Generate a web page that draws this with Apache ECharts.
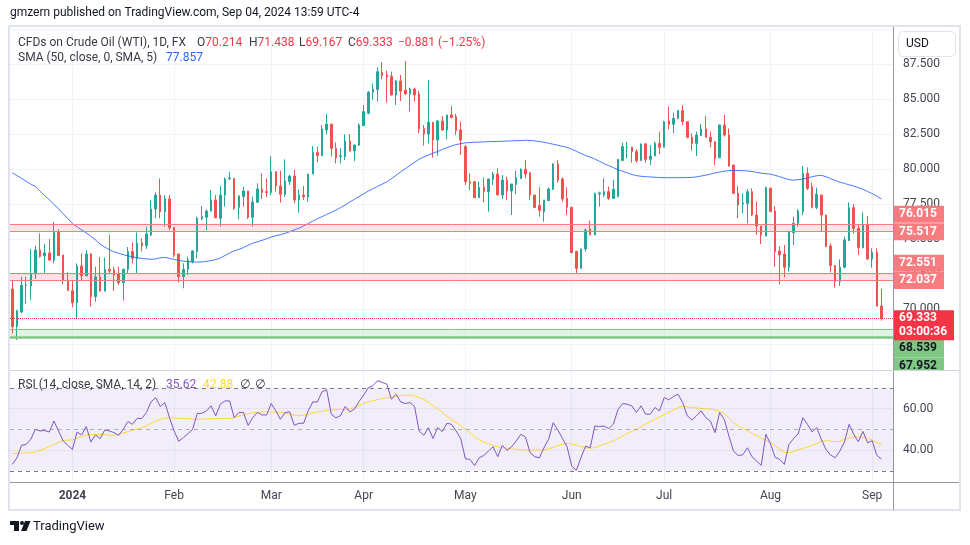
<!DOCTYPE html>
<html>
<head>
<meta charset="utf-8">
<script src="https://cdn.jsdelivr.net/npm/echarts@6/dist/echarts.min.js"></script>
<style>
html,body{margin:0;padding:0;background:#ffffff;}
#c{width:970px;height:545px;}
</style>
</head>
<body>
<div id="c"></div>
<script>
// ---------- DATA ----------
const monthDays = [
  ['2023-12', [12,13,14,15,18,19,20,21,22,26,27,28,29]],
  ['2024-01', [2,3,4,5,8,9,10,11,12,15,16,17,18,19,22,23,24,25,26,29,30,31]],
  ['2024-02', [1,2,5,6,7,8,9,12,13,14,15,16,19,20,21,22,23,26,27,28,29]],
  ['2024-03', [1,4,5,6,7,8,11,12,13,14,15,18,19,20,21,22,25,26,27,28]],
  ['2024-04', [1,2,3,4,5,8,9,10,11,12,15,16,17,18,19,22,23,24,25,26,29,30]],
  ['2024-05', [1,2,3,6,7,8,9,10,13,14,15,16,17,20,21,22,23,24,27,28,29,30,31]],
  ['2024-06', [3,4,5,6,7,10,11,12,13,14,17,18,19,20,21,24,25,26,27,28]],
  ['2024-07', [1,2,3,4,5,8,9,10,11,12,15,16,17,18,19,22,23,24,25,26,29,30,31]],
  ['2024-08', [1,2,5,6,7,8,9,12,13,14,15,16,19,20,21,22,23,26,27,28,29,30]],
  ['2024-09', [2,3,4,5,6]]
];
const tickLabels = ['2024','Feb','Mar','Apr','May','Jun','Jul','Aug','Sep'];

const opens = [
71.43,68.74,69.79,71.69,71.64,72.55,74.21,73.79,74.00,73.50,
75.50,73.86,72.05,71.31,70.45,73.07,72.38,73.93,70.88,72.29,
71.29,72.83,72.79,72.55,71.88,72.83,74.10,73.60,74.71,74.52,
75.29,77.14,78.14,76.95,77.86,75.83,73.93,72.31,72.83,73.38,
74.10,76.43,76.55,77.00,77.79,76.48,78.14,79.31,79.33,77.26,
78.02,78.43,76.55,77.62,78.57,78.38,78.33,79.81,78.79,78.19,
79.10,79.50,77.79,78.14,78.02,79.64,81.17,80.95,82.79,83.21,
81.48,80.90,80.88,82.00,81.29,81.71,83.10,83.98,85.48,85.67,
86.90,86.71,86.64,85.29,86.29,85.64,85.36,85.71,85.36,82.90,
82.50,83.33,82.07,83.43,82.79,83.86,83.74,82.79,81.60,79.10,
79.10,77.95,78.69,78.38,79.26,79.64,78.14,79.21,78.43,78.90,
79.33,79.98,79.74,78.14,77.40,76.95,77.74,78.55,80.36,79.29,
77.90,77.26,74.10,72.90,74.29,75.71,75.29,78.21,78.14,78.38,
77.90,78.02,80.60,81.55,81.55,81.24,80.60,81.79,80.69,80.93,
81.83,81.55,83.43,83.19,83.62,84.17,83.38,82.26,81.83,82.38,
82.86,82.26,81.95,80.81,83.14,82.43,80.29,78.26,77.50,77.55,
78.38,76.71,75.93,75.21,78.62,77.00,74.14,73.93,72.98,75.45,
76.12,76.95,79.69,78.74,77.26,78.14,76.71,74.50,73.10,71.95,
72.98,74.88,77.24,75.76,74.38,76.05,73.57,74.05,70.214
];
const highs = [
72.00,69.93,72.31,72.31,74.29,74.52,75.40,74.64,75.00,76.21,
75.69,73.86,72.62,72.07,73.26,73.98,74.21,73.98,73.02,73.71,
73.67,75.29,73.02,73.02,72.90,74.43,74.74,75.48,75.05,75.88,
77.79,78.33,79.33,78.14,78.14,75.83,73.93,73.26,73.74,74.21,
76.60,77.36,77.12,78.50,78.14,78.79,79.40,79.81,79.33,78.14,
78.74,78.43,78.02,78.98,79.69,79.33,80.93,79.81,79.88,80.69,
79.57,79.93,78.55,78.79,79.64,81.64,81.60,83.14,83.93,83.21,
81.90,81.48,82.48,82.48,81.76,83.26,84.57,85.57,86.12,87.26,
87.62,87.02,86.95,86.36,86.71,87.71,85.81,85.81,85.57,83.14,
86.36,83.38,83.50,83.79,83.86,84.50,83.93,83.38,81.71,79.69,
79.10,79.10,79.38,79.29,79.81,80.05,79.57,79.45,78.93,79.86,
80.05,80.64,79.74,78.14,78.70,77.79,78.69,80.40,80.64,79.40,
78.69,77.31,74.17,74.29,75.76,76.31,78.31,78.38,79.33,78.74,
79.21,80.69,81.88,81.95,81.60,81.40,81.83,81.88,81.71,81.95,
82.67,83.45,84.45,84.02,84.21,84.57,83.38,82.55,82.67,83.21,
83.79,82.67,81.95,83.19,83.86,82.90,80.29,78.79,78.26,78.55,
78.62,77.67,75.93,78.74,78.69,77.36,74.45,74.57,75.60,76.60,
77.14,80.21,80.12,79.02,78.67,78.14,76.71,74.69,73.14,73.55,
75.17,77.62,77.50,76.00,76.90,76.64,74.33,74.33,71.438
];
const lows = [
68.26,67.79,69.69,70.36,70.64,72.14,73.67,72.55,73.43,73.26,
73.81,71.76,71.31,70.12,69.33,72.07,72.31,70.17,70.52,71.24,
71.24,72.55,71.31,71.71,70.60,72.55,73.26,72.55,74.10,74.29,
75.21,76.48,76.48,75.88,75.64,73.69,71.88,71.48,72.43,73.26,
73.62,76.36,75.64,76.95,76.48,75.88,77.31,79.21,77.07,76.40,
77.31,76.43,75.88,77.60,77.86,77.98,78.14,78.38,77.60,78.02,
78.86,77.55,76.88,77.79,77.67,79.64,80.48,80.93,82.48,80.88,
80.40,80.40,80.64,81.24,80.57,81.64,83.07,83.90,84.93,84.81,
86.40,84.74,85.24,84.57,84.86,85.29,84.10,84.81,82.55,81.67,
81.83,80.81,80.95,82.71,82.12,83.62,82.43,81.00,78.86,78.50,
77.95,77.95,77.60,76.95,78.86,78.14,77.86,77.79,76.71,78.19,
79.29,79.33,77.79,77.24,76.60,76.24,77.74,78.50,79.02,77.67,
76.71,74.02,72.55,72.90,74.10,75.29,75.29,77.31,77.98,77.79,
77.90,78.02,80.60,80.76,80.45,80.45,80.60,80.45,80.29,80.93,
81.07,81.55,82.83,82.55,83.55,83.14,82.19,81.31,80.93,82.38,
82.26,81.55,80.29,80.76,82.31,80.17,78.26,76.48,76.83,76.12,
76.64,75.29,74.64,75.21,76.95,73.02,71.76,72.26,72.67,74.57,
75.88,76.71,78.50,77.19,77.12,75.52,74.45,72.60,71.52,71.64,
72.90,74.88,75.40,73.86,74.33,73.50,72.95,70.17,69.167
];
const closes = [
68.74,69.88,71.69,71.72,72.55,74.21,73.74,74.00,73.50,75.50,
73.81,72.05,71.31,70.45,73.07,72.38,73.93,70.88,72.29,71.29,
72.83,72.71,72.43,71.88,72.83,74.10,73.62,74.71,74.52,75.36,
77.14,78.14,76.95,77.86,75.81,73.86,72.31,72.83,73.50,74.14,
76.48,76.60,77.00,77.79,76.52,78.14,79.29,79.36,77.19,78.07,
78.43,76.55,77.64,78.57,78.33,78.33,79.81,78.79,78.19,79.14,
79.50,77.79,78.14,78.02,79.64,81.17,80.95,82.86,83.21,81.48,
80.81,80.95,82.00,81.29,81.71,83.14,84.10,85.48,85.71,86.95,
86.67,86.57,85.29,86.29,85.57,85.36,85.71,85.29,82.86,82.50,
83.33,82.07,83.43,82.79,83.86,83.67,82.74,82.07,79.10,78.98,
77.95,78.69,78.38,79.29,79.64,78.14,79.21,78.43,78.93,79.38,
79.98,79.64,78.14,77.24,77.05,77.79,78.57,80.36,79.21,77.86,
77.26,74.02,72.90,74.29,75.64,75.29,78.26,78.29,78.38,77.90,
78.55,80.69,81.60,81.57,81.24,80.60,81.79,80.69,80.93,81.83,
81.55,83.38,83.19,83.62,84.17,83.38,82.26,81.83,82.43,82.86,
82.26,81.95,80.76,83.14,82.43,80.21,78.26,77.43,77.57,78.38,
76.71,75.93,75.29,78.67,76.95,74.10,73.86,72.98,75.52,76.12,
77.00,79.69,78.62,77.26,78.21,76.71,74.45,73.10,71.95,72.98,
74.93,77.24,75.76,74.38,76.05,73.57,74.05,70.214,69.333
];
const sma50 = [
79.72,79.53,79.33,79.12,78.92,78.75,78.41,78.10,77.80,77.47,
77.17,76.80,76.46,76.10,75.87,75.65,75.43,75.20,74.93,74.64,
74.42,74.24,74.08,73.98,73.88,73.80,73.73,73.66,73.61,73.58,
73.55,73.58,73.66,73.68,73.62,73.54,73.48,73.42,73.38,73.36,
73.35,73.36,73.40,73.46,73.53,73.65,73.82,74.00,74.15,74.26,
74.39,74.55,74.70,74.80,74.90,75.02,75.14,75.23,75.31,75.40,
75.52,75.65,75.78,75.93,76.11,76.28,76.45,76.60,76.76,76.90,
77.07,77.24,77.43,77.64,77.84,78.03,78.23,78.42,78.60,78.76,
78.92,79.08,79.30,79.55,79.80,80.02,80.25,80.48,80.70,80.86,
81.00,81.13,81.25,81.39,81.52,81.65,81.74,81.81,81.87,81.89,
81.91,81.92,81.94,81.95,81.96,81.97,81.98,82.00,82.01,82.02,
82.03,82.05,82.04,82.01,81.96,81.91,81.84,81.77,81.70,81.62,
81.55,81.41,81.27,81.11,80.96,80.85,80.72,80.55,80.38,80.25,
80.10,79.96,79.84,79.73,79.61,79.53,79.48,79.45,79.43,79.41,
79.39,79.38,79.38,79.38,79.38,79.38,79.39,79.40,79.44,79.50,
79.56,79.63,79.72,79.78,79.84,79.89,79.90,79.89,79.88,79.86,
79.82,79.76,79.70,79.66,79.63,79.55,79.45,79.34,79.24,79.20,
79.24,79.28,79.36,79.45,79.52,79.55,79.45,79.32,79.18,79.06,
78.97,78.87,78.78,78.67,78.55,78.40,78.24,78.06,77.857
];
const rsi = [
33.1,36.3,42.3,42.7,45.2,50.0,49.2,49.4,48.7,54.0,
49.2,44.4,42.3,40.3,48.7,47.3,51.3,43.9,47.3,45.5,
49.7,49.2,48.4,47.1,50.0,53.7,52.4,55.3,55.2,58.1,
63.2,65.3,61.0,62.9,55.6,49.2,44.2,46.0,47.9,50.0,
57.6,57.7,58.9,61.3,56.5,62.1,63.7,63.7,55.6,58.1,
58.1,51.9,55.6,58.1,56.9,56.9,62.4,58.9,54.8,58.1,
58.4,51.9,52.9,52.9,58.9,63.2,63.2,68.1,69.0,57.3,
55.5,56.6,61.0,58.4,59.7,63.4,66.5,70.0,71.0,73.4,
72.6,71.8,64.5,66.9,63.2,62.4,62.9,61.0,49.2,47.1,
50.8,45.6,50.8,48.9,52.9,52.4,49.2,45.5,35.8,35.5,
32.5,36.3,37.4,39.5,41.6,36.8,42.3,39.8,41.6,44.4,
47.6,46.3,38.7,36.8,36.3,41.1,45.2,53.2,49.7,45.6,
41.6,32.3,30.2,36.3,41.9,41.1,51.6,51.3,51.6,50.3,
52.4,59.4,62.4,62.1,61.3,58.1,61.3,57.3,57.3,60.5,
58.9,65.3,64.2,65.8,66.9,62.9,56.5,54.5,56.5,58.9,
55.6,54.0,48.4,58.1,54.8,46.8,39.5,37.4,37.7,41.1,
36.8,34.7,32.6,47.6,43.0,36.5,35.5,33.1,42.7,45.5,
47.9,55.6,52.4,48.7,50.8,45.2,40.3,37.6,36.3,39.5,
43.9,52.4,47.6,44.0,49.0,43.5,44.5,37.5,35.62
];
const rsiMa = [
38.4,38.4,38.5,38.6,38.7,39.1,39.8,40.6,41.7,42.7,
43.7,44.6,44.8,44.9,45.6,46.5,47.3,47.5,47.6,47.6,
47.4,47.2,47.1,47.6,48.2,48.9,49.5,50.1,50.8,51.6,
52.8,53.9,54.8,55.2,55.6,55.5,55.3,55.2,55.1,54.9,
54.8,54.9,55.0,55.1,55.2,55.2,55.2,55.2,55.7,56.3,
57.0,57.6,57.9,58.1,58.3,58.4,58.4,58.3,58.1,57.7,
57.2,56.8,56.5,56.8,57.3,57.9,58.3,58.7,59.1,59.4,
59.5,59.6,59.6,59.7,60.5,61.5,62.5,63.2,63.8,64.3,
64.8,65.2,65.5,65.9,66.2,66.4,66.5,66.1,65.3,64.5,
63.0,61.3,59.8,58.2,56.3,54.8,53.3,51.7,50.1,48.2,
46.4,44.8,43.9,43.0,42.2,41.6,41.2,40.9,40.6,40.4,
40.2,40.1,40.0,40.0,40.1,40.2,40.6,41.3,42.1,42.8,
43.2,42.9,42.3,41.7,41.1,40.8,41.2,41.9,42.8,43.6,
44.4,45.5,46.7,47.9,49.0,50.0,51.2,52.6,53.8,54.8,
55.9,57.0,58.2,59.3,60.5,61.0,60.8,60.5,60.3,60.1,
59.9,59.7,59.3,58.7,57.8,55.5,53.2,51.8,50.5,49.2,
48.1,47.0,45.7,44.8,43.5,42.0,40.5,38.9,38.8,39.3,
40.2,40.8,41.5,42.2,43.2,44.2,44.5,44.3,44.0,44.3,
45.2,45.8,46.2,46.3,46.1,45.7,44.8,43.6,42.88
];
const resistanceZones = [[75.517, 76.015], [72.037, 72.551]];
const supportZone = [67.952, 68.539];
const rsiLevels = [30, 50, 70];
const rsiGridLevels = [40, 60];
const countdown = '03:00:36';

// ---------- BUILD ----------
const FONT = 'Roboto, "Noto Sans", "DejaVu Sans", sans-serif';
const UP = '#26a69a', DOWN = '#ef5350', RED = '#f23645';
const TXT = '#131722', SUB = '#434651', GRID = '#f0f3fa';
const dates = [];
monthDays.forEach(([m, ds]) => ds.forEach(d => dates.push(m + '-' + String(d).padStart(2, '0'))));
const last = closes.length - 1;
const candleData = opens.map((o, i) => [o, closes[i], lows[i], highs[i]]);
const isMonthStart = (i) => i > 0 && dates[i].slice(0, 7) !== dates[i - 1].slice(0, 7);
const monthFmt = (v) => {
  const m = +v.slice(5, 7);
  return m === 1 ? '{y|' + tickLabels[0] + '}' : tickLabels[m - 1];
};
const vGrid = { show: true, interval: (i) => isMonthStart(i), alignWithLabel: true, lineStyle: { color: GRID, width: 1 } };

const zoneLine = (v, color, w, type) => ({ yAxis: v, lineStyle: { color: color, width: w, type: type || 'solid' } });

const chart = echarts.init(document.getElementById('c'), null, { renderer: 'canvas' });
const option = {
  animation: false,
  backgroundColor: '#ffffff',
  textStyle: { fontFamily: FONT },
  grid: [
    { left: 10, right: 77, top: 29, height: 315 },
    { left: 10, right: 77, top: 371, height: 111 },
    { left: 10, right: 77, top: 344, height: 26 }
  ],
  xAxis: [
    {
      type: 'category', gridIndex: 0, data: dates, boundaryGap: true,
      axisLine: { show: false }, axisTick: { show: false }, axisLabel: { show: false }, splitLine: vGrid
    },
    {
      type: 'category', gridIndex: 1, data: dates, boundaryGap: true,
      axisLine: { show: false }, axisTick: { show: false },
      axisLabel: {
        show: true, interval: (i) => isMonthStart(i), formatter: monthFmt, margin: 8,
        color: SUB, fontSize: 12, fontFamily: FONT,
        rich: { y: { fontWeight: 'bold', fontSize: 12, color: SUB, fontFamily: FONT } }
      },
      splitLine: vGrid
    },
    {
      type: 'category', gridIndex: 2, data: dates, boundaryGap: true,
      axisLine: { show: false }, axisTick: { show: false }, axisLabel: { show: false }, splitLine: vGrid
    }
  ],
  yAxis: [
    {
      type: 'value', gridIndex: 0, position: 'right', min: 67.5, max: 90, interval: 2.5,
      axisLine: { show: false }, axisTick: { show: false },
      splitLine: { show: true, lineStyle: { color: GRID, width: 1 } },
      axisLabel: {
        margin: 10, color: SUB, fontSize: 12, fontFamily: FONT,
        formatter: (v) => (v <= 67.5 + 1e-6 || v >= 90 - 1e-6) ? '' : v.toFixed(3)
      }
    },
    {
      type: 'value', gridIndex: 1, position: 'right', min: 24.6, max: 78.1,
      axisLine: { show: false }, axisTick: { show: false }, splitLine: { show: false },
      axisLabel: {
        margin: 10, color: SUB, fontSize: 12, fontFamily: FONT,
        formatter: (v) => rsiGridLevels.some(g => Math.abs(g - v) < 1e-6) ? v.toFixed(2) : ''
      }
    },
    {
      type: 'value', gridIndex: 2, position: 'right', min: 0, max: 1, show: false
    }
  ],
  series: [
    {
      type: 'candlestick', name: 'WTI', xAxisIndex: 0, yAxisIndex: 0, data: candleData,
      barWidth: 2, z: 3,
      itemStyle: { color: UP, color0: DOWN, borderColor: UP, borderColor0: DOWN, borderWidth: 1 },
      markArea: {
        silent: true,
        data: resistanceZones.map(z => [{ yAxis: z[0], itemStyle: { color: 'rgba(242,54,69,0.13)' } }, { yAxis: z[1] }])
          .concat([[{ yAxis: supportZone[0], itemStyle: { color: 'rgba(76,175,80,0.16)' } }, { yAxis: supportZone[1] }]])
      },
      markLine: {
        silent: true, symbol: ['none', 'none'], label: { show: false },
        data: [
          zoneLine(resistanceZones[0][0], '#f77c80', 1), zoneLine(resistanceZones[0][1], '#f77c80', 1),
          zoneLine(resistanceZones[1][0], '#f77c80', 1), zoneLine(resistanceZones[1][1], '#f77c80', 1),
          zoneLine(supportZone[1], '#81c784', 1), zoneLine(supportZone[0], '#81c784', 2.5),
          zoneLine(closes[last], RED, 1, 'dotted')
        ]
      }
    },
    {
      type: 'line', name: 'SMA', xAxisIndex: 0, yAxisIndex: 0, data: sma50, symbol: 'none', z: 4,
      lineStyle: { color: '#2962ff', width: 1, opacity: 0.85 }
    },
    {
      type: 'line', name: 'RSI', xAxisIndex: 1, yAxisIndex: 1, data: rsi, symbol: 'none', z: 4,
      lineStyle: { color: '#7e57c2', width: 1 },
      markArea: {
        silent: true,
        data: [[{ yAxis: rsiLevels[0], itemStyle: { color: 'rgba(126,87,194,0.1)' } }, { yAxis: rsiLevels[2] }]]
      },
      markLine: {
        silent: true, symbol: ['none', 'none'], label: { show: false },
        data: [
          { yAxis: rsiLevels[2], lineStyle: { color: '#787b86', width: 1, type: [4, 4] } },
          { yAxis: rsiLevels[1], lineStyle: { color: 'rgba(120,123,134,0.55)', width: 1, type: [4, 4] } },
          { yAxis: rsiLevels[0], lineStyle: { color: '#787b86', width: 1, type: [4, 4] } },
          { yAxis: rsiGridLevels[0], lineStyle: { color: 'rgba(120,123,134,0.10)', width: 1, type: 'solid' } },
          { yAxis: rsiGridLevels[1], lineStyle: { color: 'rgba(120,123,134,0.10)', width: 1, type: 'solid' } }
        ]
      }
    },
    {
      type: 'line', name: 'RSI MA', xAxisIndex: 1, yAxisIndex: 1, data: rsiMa, symbol: 'none', z: 3,
      lineStyle: { color: '#fdd835', width: 1 }
    }
  ]
};
chart.setOption(option);

// ---------- CHROME / TEXT ----------
const txt = (x, y, text, fill, size, extra) => Object.assign({
  type: 'text', x: x, y: y, silent: true, z: 50,
  style: { text: text, fill: fill, fontSize: size || 12, fontFamily: FONT, verticalAlign: 'middle', align: 'left' }
}, extra || {});
const rich2 = (x, y, k, v, vColor) => ({
  type: 'text', x: x, y: y, silent: true, z: 50,
  style: {
    text: '{k|' + k + '}{v|' + v + '}', verticalAlign: 'middle', align: 'left', fontSize: 12, fontFamily: FONT,
    rich: { k: { fill: '#363a45', fontSize: 12, fontFamily: FONT }, v: { fill: vColor, fontSize: 12, fontFamily: FONT } }
  }
});
const chg = closes[last] - closes[last - 1];
const chgPct = chg / closes[last - 1] * 100;
const signed = (v, d) => (v < 0 ? '\u2212' : '+') + Math.abs(v).toFixed(d);

const g = [
  { type: 'rect', silent: true, z: 0, shape: { x: 9, y: 26, width: 951, height: 484 }, style: { fill: 'none', stroke: '#e0e3eb', lineWidth: 2 } },
  txt(10, 13, 'gmzern published on TradingView.com, Sep 04, 2024 13:59 UTC-4', TXT, 12),
  txt(18, 43, 'CFDs on Crude Oil (WTI), 1D, FX', '#363a45', 12),
  rich2(197, 43, 'O', opens[last].toFixed(3), RED),
  rich2(249, 43, 'H', highs[last].toFixed(3), RED),
  rich2(299, 43, 'L', lows[last].toFixed(3), RED),
  rich2(348, 43, 'C', closes[last].toFixed(3), RED),
  txt(398, 43, signed(chg, 3) + ' (' + signed(chgPct, 2) + '%)', RED, 12),
  txt(18, 58, 'SMA (50, close, 0, SMA, 5)', '#363a45', 12),
  txt(166, 58, sma50[last].toFixed(3), '#2962ff', 12),
  txt(18, 385, 'RSI (14, close, SMA, 14, 2)', '#363a45', 12),
  txt(166, 385, rsi[last].toFixed(2), '#7e57c2', 12),
  txt(203, 385, rsiMa[last].toFixed(2), '#fdd835', 12),
  txt(240, 385, '\u2205', '#363a45', 12),
  txt(255, 385, '\u2205', '#363a45', 12),
  // price scale separators
  { type: 'line', silent: true, z: 40, shape: { x1: 893.5, y1: 27, x2: 893.5, y2: 510 }, style: { stroke: '#9598a1', lineWidth: 1 } },
  { type: 'rect', silent: true, z: 58, shape: { x: 894, y: 371, width: 64, height: 6 }, style: { fill: '#ffffff' } },
  { type: 'line', silent: true, z: 59, shape: { x1: 10, y1: 370.5, x2: 959, y2: 370.5 }, style: { stroke: '#d1d4dc', lineWidth: 1 } },
  { type: 'line', silent: true, z: 40, shape: { x1: 10, y1: 482.5, x2: 959, y2: 482.5 }, style: { stroke: '#9598a1', lineWidth: 1 } },
  // USD button
  { type: 'rect', silent: true, z: 60, shape: { x: 898.5, y: 31.5, width: 57, height: 25, r: 5 }, style: { fill: '#ffffff', stroke: '#e0e3eb', lineWidth: 1 } },
  txt(906, 44, 'USD', TXT, 12, { z: 61 }),
  // TradingView logo
  { type: 'rect', silent: true, z: 50, shape: { x: 10, y: 521, width: 9, height: 4 }, style: { fill: TXT } },
  { type: 'rect', silent: true, z: 50, shape: { x: 14, y: 521, width: 5, height: 10 }, style: { fill: TXT } },
  { type: 'circle', silent: true, z: 50, shape: { cx: 22, cy: 523, r: 2 }, style: { fill: TXT } },
  { type: 'polygon', silent: true, z: 50, shape: { points: [[25, 521], [30.5, 521], [26.5, 531], [21, 531]] }, style: { fill: TXT } },
  txt(33, 527, 'TradingView', TXT, 13)
];

// price tags on the price scale, placed through the axis scale
const tag = (value, text, bg, fg, dy, w, h) => {
  const y = chart.convertToPixel({ yAxisIndex: 0 }, value) + dy;
  return [
    { type: 'rect', silent: true, z: 55, shape: { x: 894, y: y - h / 2, width: w, height: h }, style: { fill: bg } },
    {
      type: 'text', silent: true, z: 56, x: 899, y: y,
      style: { text: text, fill: fg, fontSize: 12, fontWeight: 'bold', fontFamily: FONT, verticalAlign: 'middle', align: 'left', lineHeight: 14 }
    }
  ];
};
const tags = [].concat(
  tag(resistanceZones[0][1], resistanceZones[0][1].toFixed(3), '#f77c80', '#ffffff', -10.5, 50, 17),
  tag(resistanceZones[0][0], resistanceZones[0][0].toFixed(3), '#f77c80', '#ffffff', 0, 50, 17),
  tag(resistanceZones[1][1], resistanceZones[1][1].toFixed(3), '#f77c80', '#ffffff', -10, 50, 17),
  tag(resistanceZones[1][0], resistanceZones[1][0].toFixed(3), '#f77c80', '#ffffff', 0, 50, 17),
  tag(supportZone[1], supportZone[1].toFixed(3), '#81c784', TXT, 19, 50, 17),
  tag(supportZone[0], supportZone[0].toFixed(3), '#81c784', TXT, 28, 50, 17),
  tag(closes[last], closes[last].toFixed(3) + '\n' + countdown, '#f23645', '#ffffff', 7, 60, 30)
);
chart.setOption({ graphic: g.concat(tags) });
</script>
</body>
</html>
